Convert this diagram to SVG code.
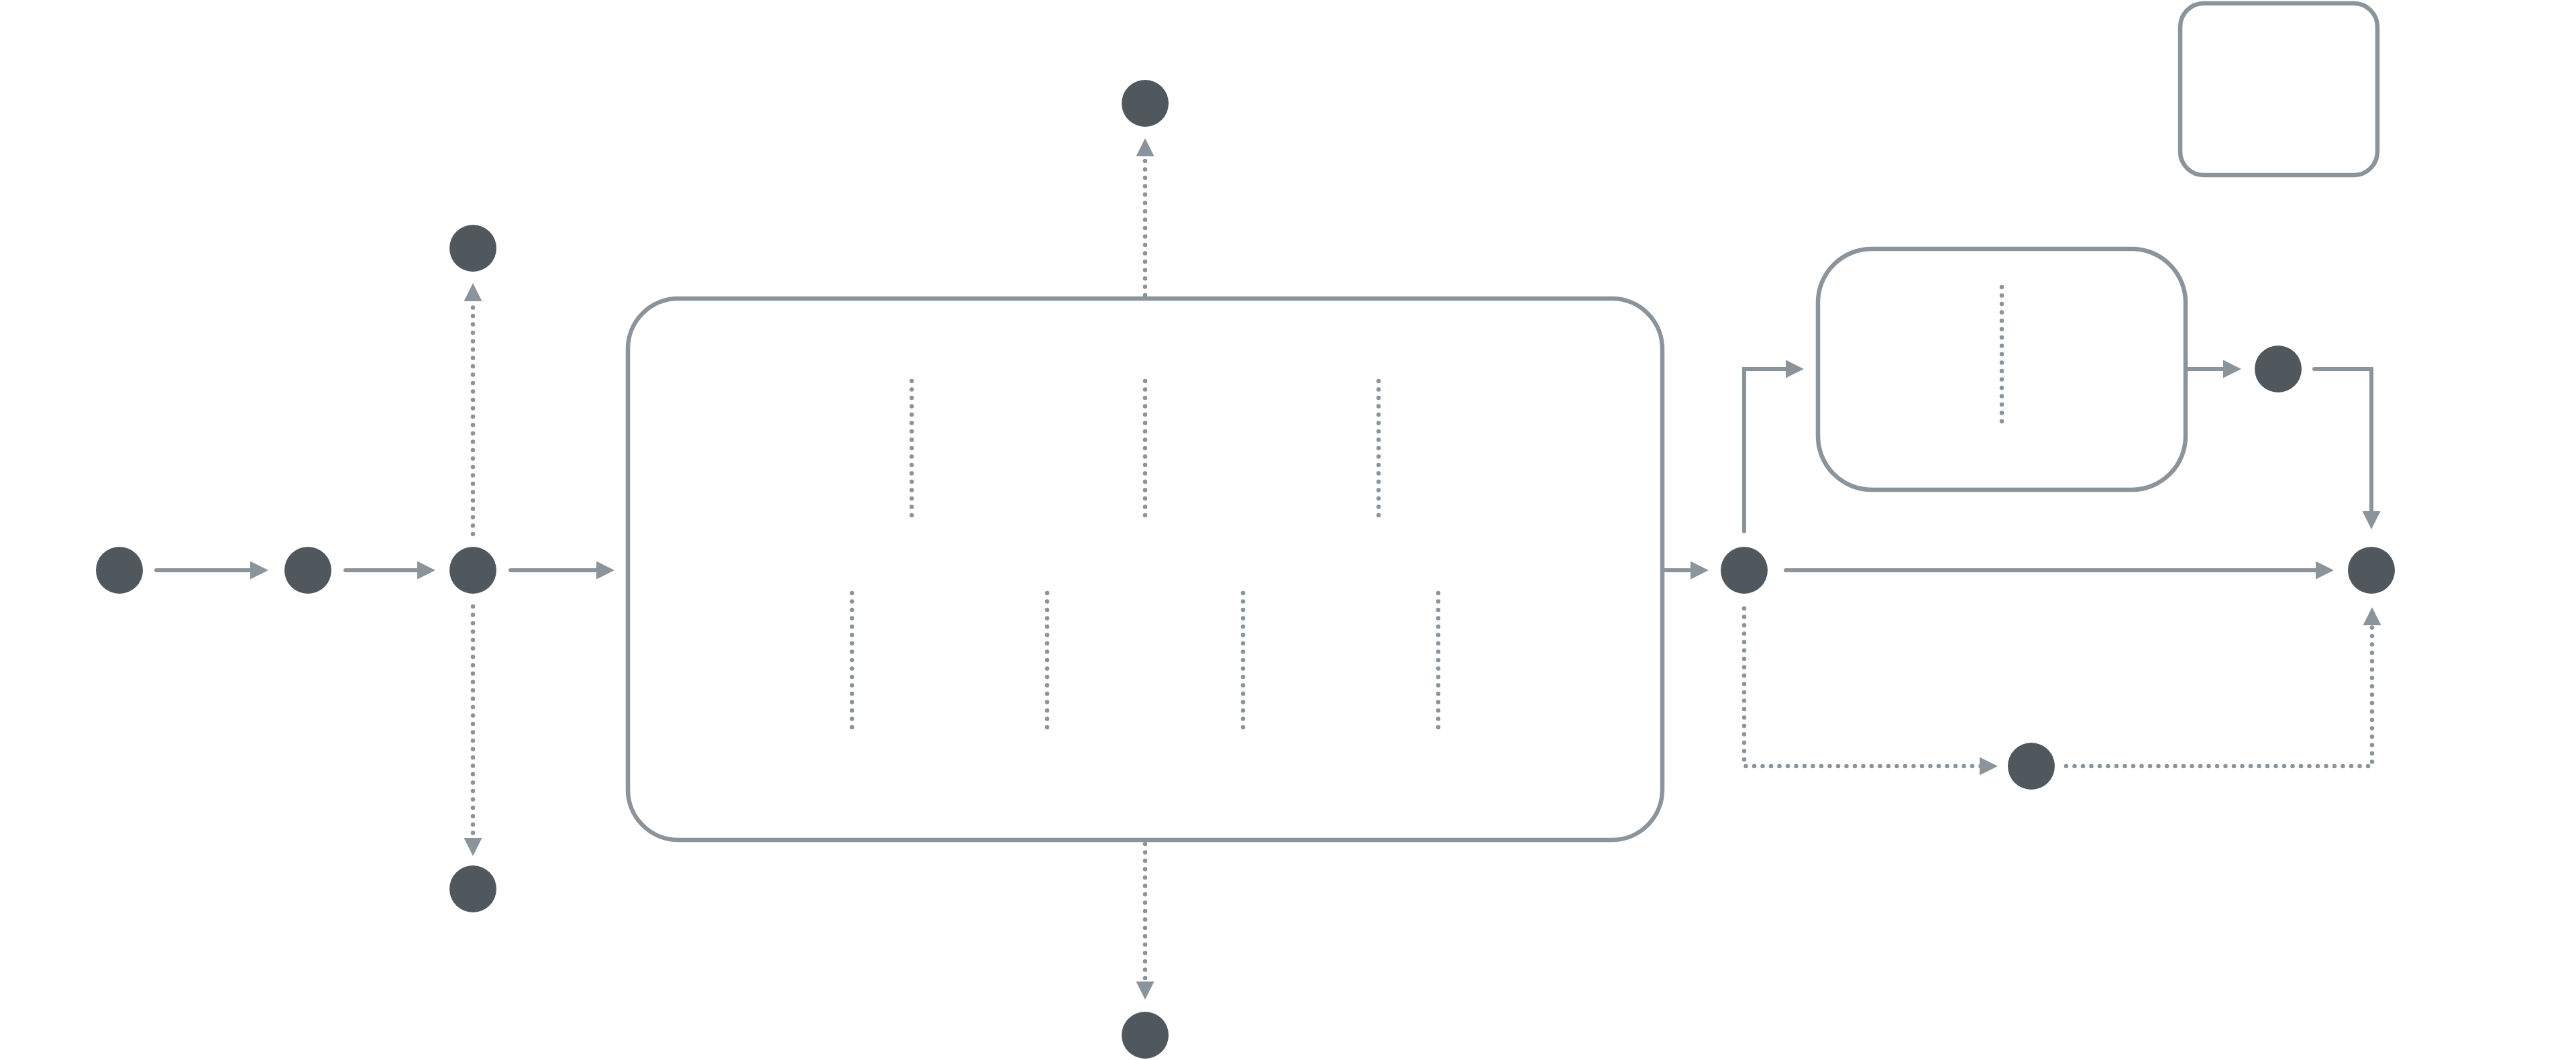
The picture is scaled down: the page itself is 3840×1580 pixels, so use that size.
<svg xmlns="http://www.w3.org/2000/svg" width="3840" height="1580" viewBox="0 0 3840 1580">
<style>
.node{fill:#50575d}
.box{fill:none;stroke:#8b949b;stroke-width:6.5}
.c{fill:none;stroke:#8b949b;stroke-width:6;stroke-linecap:round;stroke-linejoin:miter}
.d{fill:none;stroke:#8b949b;stroke-width:6.5;stroke-linecap:round;stroke-dasharray:0 12.5}
</style>
<defs>
<marker id="ah" markerUnits="userSpaceOnUse" markerWidth="28" markerHeight="28" refX="3" refY="13.5" orient="auto">
<path d="M0,0 L27,13.5 L0,27 z" fill="#8b949b"/>
</marker>
</defs>
<rect width="3840" height="1580" fill="#ffffff"/>
<g id="main-box">
<rect class="box" x="936" y="445" width="1542" height="807" rx="75" ry="75"/>
<path class="d" d="M1359,568 V770 M1707,568 V770 M2055,568 V770 M1270,884 V1086 M1561,884 V1086 M1853,884 V1086 M2144,884 V1086"/>
</g>
<g id="sub-box">
<rect class="box" x="2710" y="371" width="548" height="359" rx="80" ry="80"/>
<path class="d" d="M2984,428 V629"/>
</g>
<g id="legend-box">
<rect class="box" x="3250" y="5" width="294" height="256" rx="35" ry="35"/>
</g>
<g id="n1"><circle class="node" cx="178" cy="850" r="35"/></g>
<g id="n2"><circle class="node" cx="459" cy="850" r="35"/></g>
<g id="n3"><circle class="node" cx="705" cy="850" r="35"/></g>
<g id="n3-top"><circle class="node" cx="705" cy="370" r="35"/></g>
<g id="n3-bottom"><circle class="node" cx="705" cy="1325" r="35"/></g>
<g id="main-top"><circle class="node" cx="1707" cy="154" r="35"/></g>
<g id="main-bottom"><circle class="node" cx="1707" cy="1543" r="35"/></g>
<g id="junction"><circle class="node" cx="2600" cy="850" r="35"/></g>
<g id="sub-out"><circle class="node" cx="3396" cy="550" r="35"/></g>
<g id="alt"><circle class="node" cx="3028" cy="1142" r="35"/></g>
<g id="out"><circle class="node" cx="3535" cy="850" r="35"/></g>
<g id="connectors">
<path class="c" d="M233,850 H376" marker-end="url(#ah)"/>
<path class="c" d="M515,850 H625" marker-end="url(#ah)"/>
<path class="c" d="M761,850 H892" marker-end="url(#ah)"/>
<path class="d" d="M705,796 V446" marker-end="url(#ah)"/>
<path class="d" d="M705,904 V1252" marker-end="url(#ah)"/>
<path class="d" d="M1707,440 V230" marker-end="url(#ah)"/>
<path class="d" d="M1707,1258 V1466" marker-end="url(#ah)"/>
<path class="c" d="M2478,850 H2523" marker-end="url(#ah)"/>
<path class="c" d="M2662,850 H3455" marker-end="url(#ah)"/>
<path class="c" d="M2600,792 V550 H2665" marker-end="url(#ah)"/>
<path class="c" d="M3258,550 H3317" marker-end="url(#ah)"/>
<path class="c" d="M3450,550 H3535 V765" marker-end="url(#ah)"/>
<path class="d" d="M2600,907 V1142 H2954" marker-end="url(#ah)"/>
<path class="d" d="M3080,1142 H3536 V929" marker-end="url(#ah)"/>
</g>
</svg>
